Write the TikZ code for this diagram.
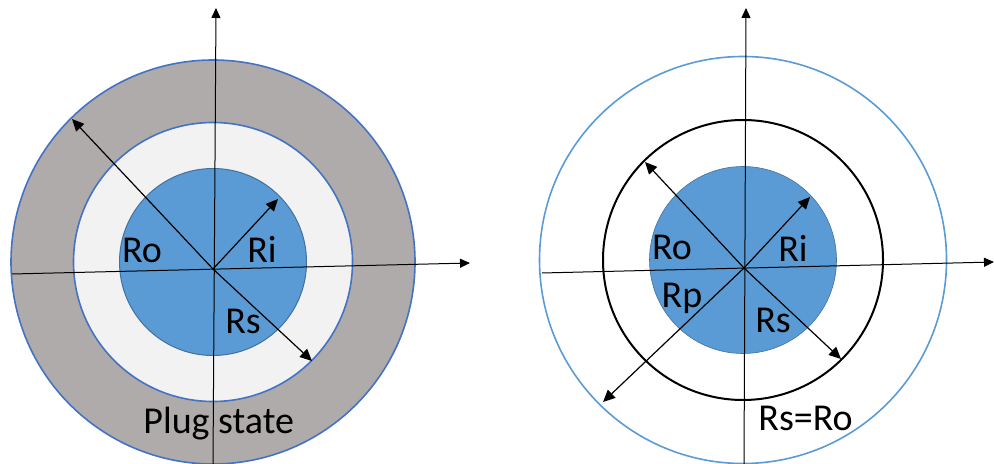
\documentclass[tikz,border=0pt]{standalone}
\usepackage{fontspec}
\setmainfont{Carlito}
\usepackage{xcolor}
\usepackage{tikz}
\usetikzlibrary{arrows.meta,positioning}

\definecolor{ringgray}{HTML}{AFABAB}
\definecolor{ringlight}{HTML}{F2F2F2}
\definecolor{edgeblue}{HTML}{4472C4}
\definecolor{coreblue}{HTML}{5B9BD5}
\definecolor{coreedge}{HTML}{41719C}

\begin{document}
\begin{tikzpicture}[
  x=0.5pt,
  y=-0.5pt,
  axis/.style={line width=0.5pt, -{Triangle[length=5pt,width=4.5pt]}},
  radius/.style={line width=0.6pt, -{Triangle[length=6pt,width=5.5pt]}},
  rlabel/.style={font=\fontsize{19}{21}\selectfont, inner sep=0pt, anchor=base}
]
\useasboundingbox (0,0) rectangle (994,464);
\clip (0,0) rectangle (994,464);

% left: plug state
\coordinate (cl) at (213,262);
\fill[ringgray, draw=edgeblue, line width=0.8pt] (cl) circle (202);
\fill[ringlight, draw=edgeblue, line width=0.8pt] (cl) circle (139.5);
\fill[coreblue, draw=coreedge, line width=0.5pt] (cl) circle (93.5);
\coordinate (ol) at (213,269);
\coordinate (xl0) at (12,274);
\coordinate (xl1) at (470,263);
\coordinate (yl0) at (213,464);
\coordinate (yl1) at (216,8);
\draw[axis] (xl0) -- (xl1);
\draw[axis] (yl0) -- (yl1);
\coordinate (rol) at (72,119);
\coordinate (ril) at (278,199);
\coordinate (rsl) at (312,361);
\draw[radius] (ol) -- (rol);
\draw[radius] (ol) -- (ril);
\draw[radius] (ol) -- (rsl);
\node[rlabel] (lro) at (142,263) {Ro};
\node[rlabel] (lri) at (262,263) {Ri};
\node[rlabel] (lrs) at (243,333) {Rs};
\node[rlabel, anchor=base west] (lplug) at (143,433) {Plug state};

% right: Rs = Ro
\coordinate (cr) at (743,260);
\draw[coreblue, line width=0.8pt] (cr) circle (203.5);
\draw[black, line width=1pt] (cr) circle (140);
\fill[coreblue, draw=coreedge, line width=0.3pt] (cr) circle (93.5);
\coordinate (or) at (744,268);
\coordinate (xr0) at (542,273);
\coordinate (xr1) at (994,262);
\coordinate (yr0) at (744,464);
\coordinate (yr1) at (746,8);
\draw[axis] (xr0) -- (xr1);
\draw[axis] (yr0) -- (yr1);
\coordinate (ror) at (645,162);
\coordinate (rir) at (810,197);
\coordinate (rsr) at (841,359);
\coordinate (rpr) at (603,402);
\draw[radius] (or) -- (ror);
\draw[radius] (or) -- (rir);
\draw[radius] (or) -- (rsr);
\draw[radius] (or) -- (rpr);
\node[rlabel] (rro) at (672,260) {Ro};
\node[rlabel] (rri) at (793,262) {Ri};
\node[rlabel] (rrp) at (682,307) {Rp};
\node[rlabel] (rrs) at (773,332) {Rs};
\node[rlabel, anchor=base west] (req) at (758,430) {Rs=Ro};
\end{tikzpicture}
\end{document}
